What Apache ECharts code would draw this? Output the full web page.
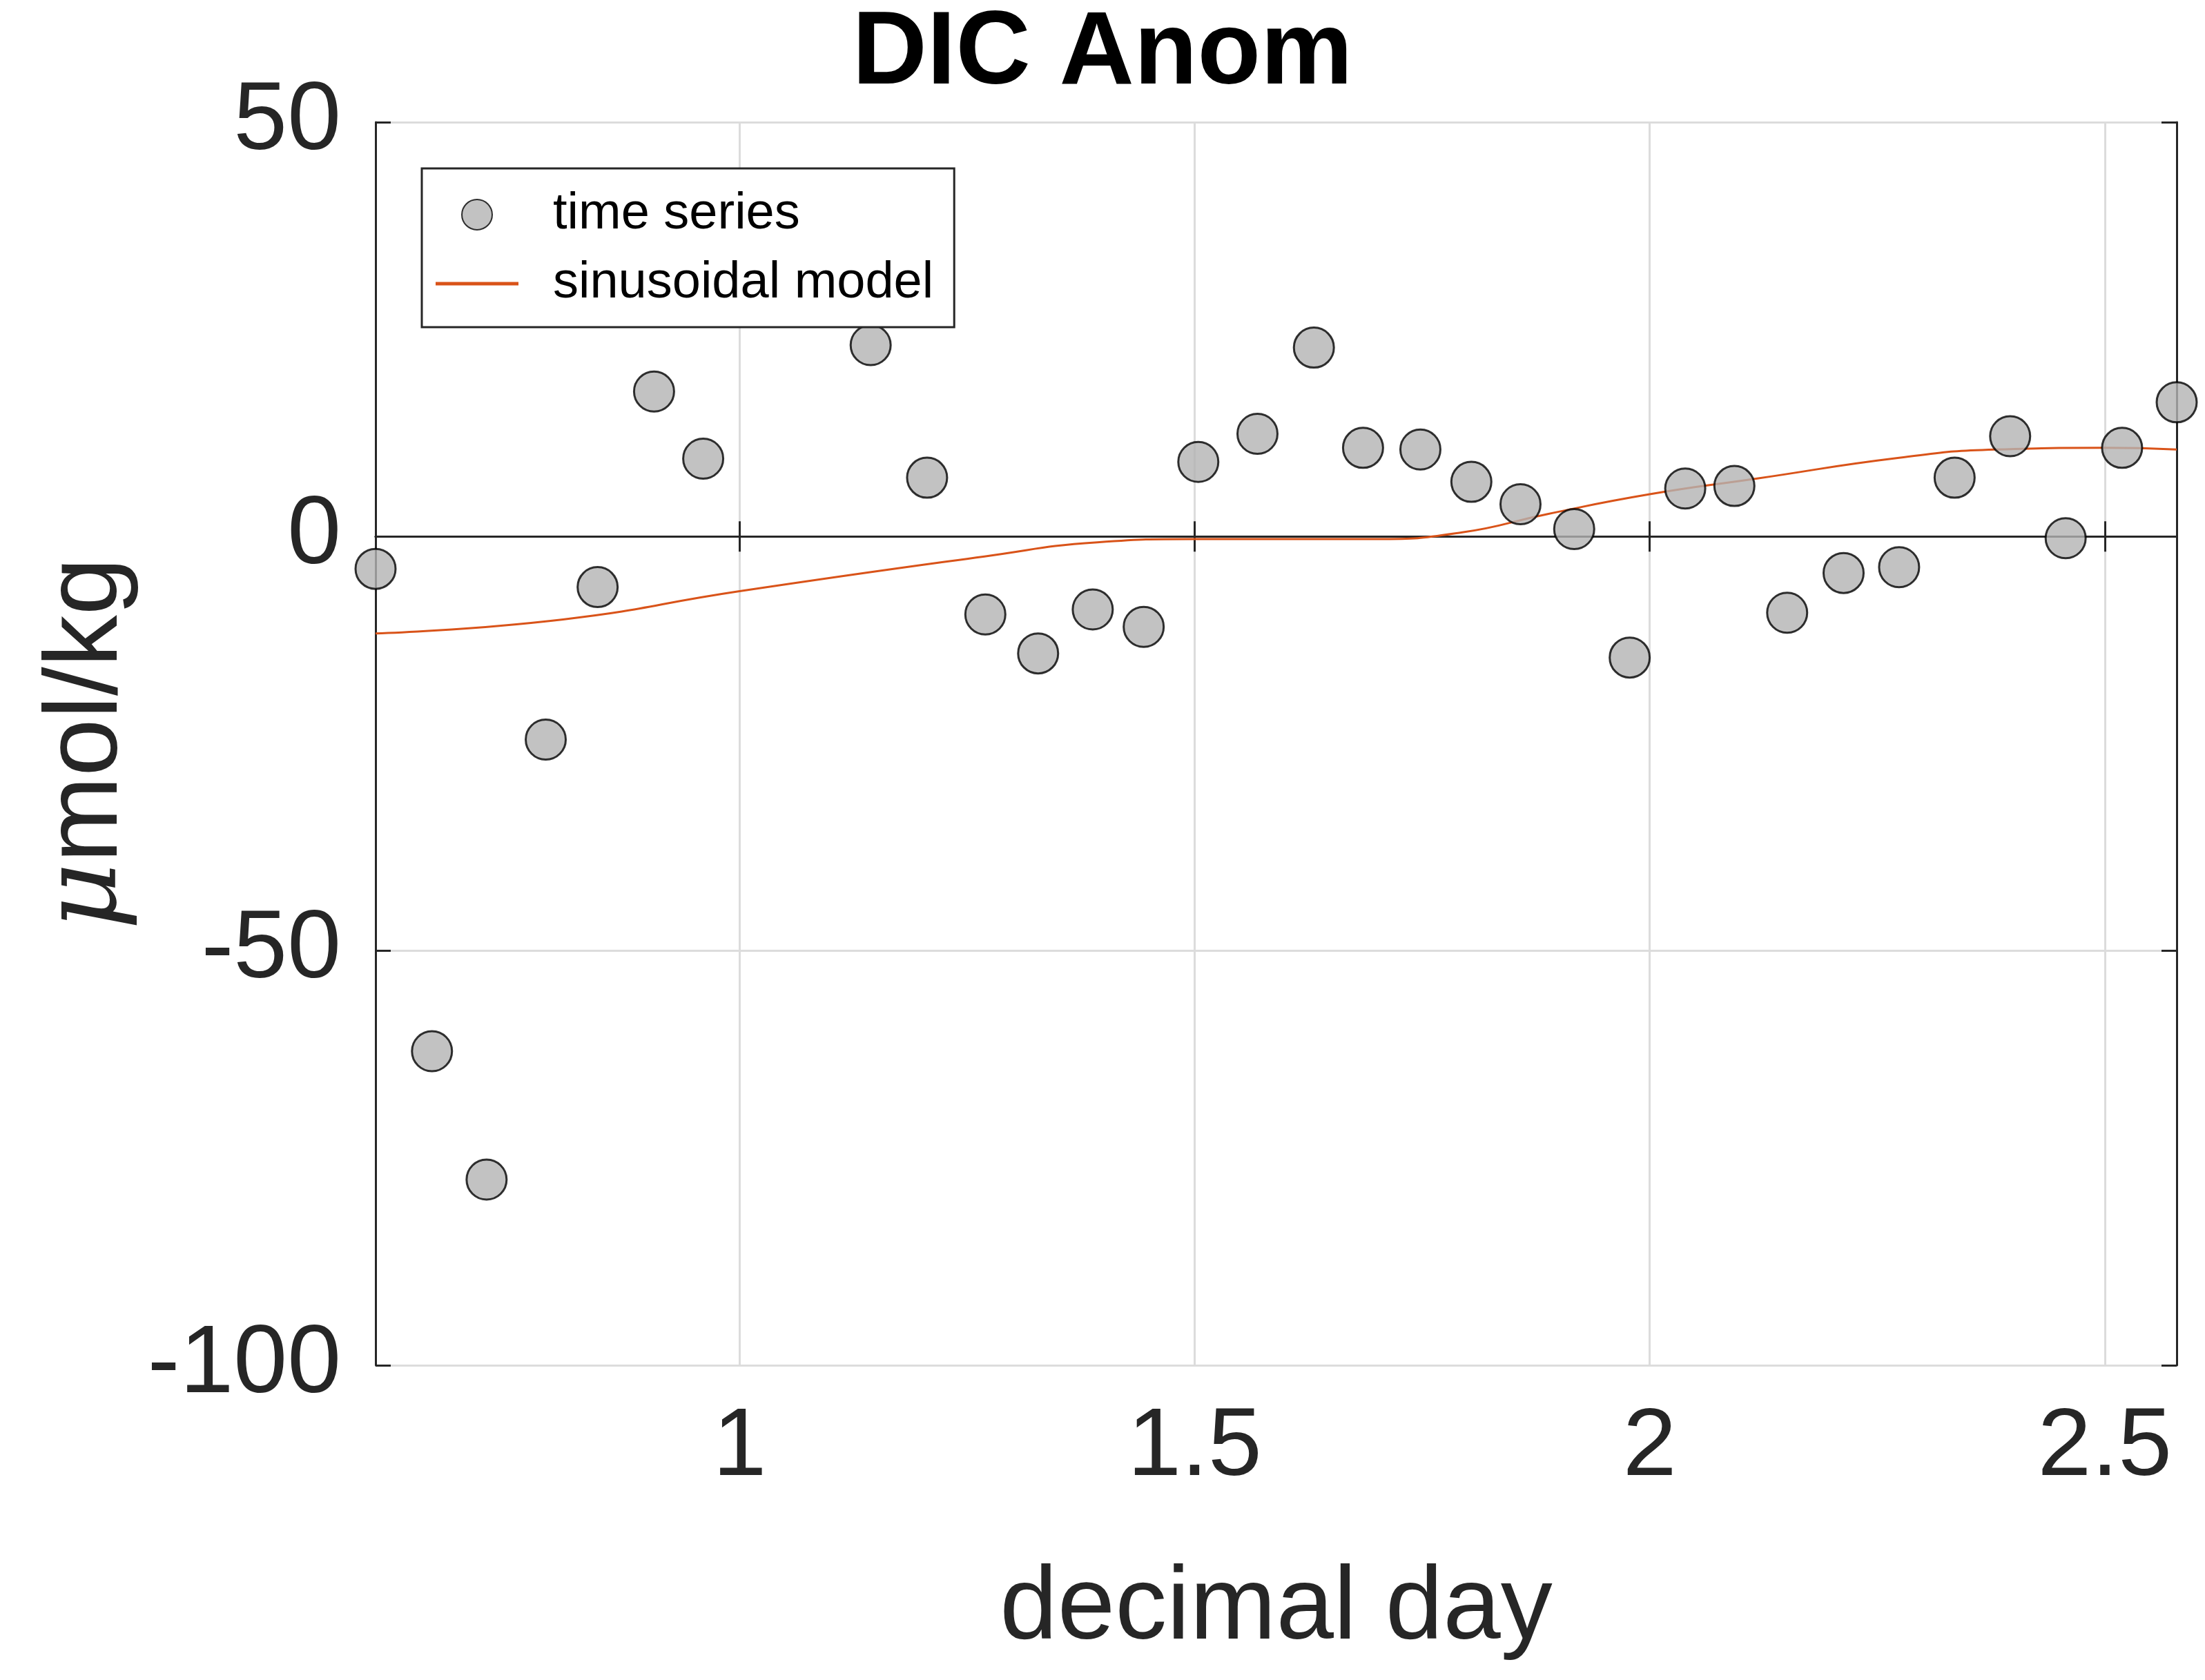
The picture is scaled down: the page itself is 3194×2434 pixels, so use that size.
<!DOCTYPE html>
<html><head><meta charset="utf-8">
<script src="https://cdn.jsdelivr.net/npm/echarts@6/dist/echarts.min.js"></script>
<style>html,body{margin:0;padding:0;background:#fff}#c{width:3194px;height:2434px}</style>
</head><body><div id="c"></div>
<script>
const dayX = [0.600,0.662,0.722,0.787,0.844,0.906,0.960,1.144,1.206,1.270,1.328,1.388,1.444,1.504,1.569,1.631,1.685,1.748,1.804,1.858,1.917,1.978,2.039,2.093,2.151,2.213,2.274,2.335,2.396,2.457,2.519,2.579];
const dicAnom = [-3.9,-62.1,-77.6,-24.5,-6.1,17.5,9.4,23.1,7.1,-9.4,-14.1,-8.8,-10.9,9.0,12.4,22.8,10.7,10.5,6.6,3.9,0.9,-14.6,5.8,6.1,-9.2,-4.4,-3.7,7.1,12.1,-0.2,10.7,16.2];
const modelX = [0.600,0.806,1.000,1.269,1.393,1.500,1.700,1.794,1.887,2.000,2.118,2.274,2.380,2.500,2.579];
const modelY = [-11.7,-10.0,-6.6,-2.4,-0.7,-0.3,-0.3,0.5,2.7,5.1,7.0,9.5,10.5,10.7,10.5];
const xTicks = [1,1.5,2,2.5];

const font = 'Arial, "Liberation Sans", sans-serif';
const frame = {show:true,lineStyle:{color:'#262626',width:3}};
const tick = {show:true,inside:true,length:22,lineStyle:{color:'#262626',width:3}};
const chart = echarts.init(document.getElementById('c'));
chart.setOption({
  animation:false,
  title:{text:'DIC Anom',left:'center',top:0,textStyle:{fontFamily:font,fontWeight:'bold',fontSize:150,color:'#000'}},
  grid:{left:544,right:41,top:177,bottom:456},
  legend:{left:611,top:244,width:940,orient:'vertical',itemWidth:120,itemHeight:44,itemGap:26,padding:[30,30,26,20],
    borderColor:'#262626',borderWidth:3,backgroundColor:'#fff',
    textStyle:{fontFamily:font,fontSize:74,color:'#000',padding:[0,0,0,45]},
    data:[{name:'time series',icon:'circle'},{name:'sinusoidal model',icon:'path://M0,0H1V0.04H0Z'}]},
  xAxis:[{type:'value',min:0.6,max:2.579,
    name:'decimal day',nameLocation:'middle',nameGap:280,nameTextStyle:{fontFamily:font,fontSize:150,color:'#262626'},
    axisLine:frame,
    axisTick:Object.assign({customValues:xTicks},tick),
    axisLabel:{customValues:xTicks,fontFamily:font,fontSize:140,color:'#262626',margin:50},
    splitLine:{show:true,lineStyle:{color:'#dcdcdc',width:3}}},
    {type:'value',position:'top',min:0.6,max:2.579,axisLine:frame,
     axisTick:Object.assign({customValues:xTicks},tick),axisLabel:{show:false},splitLine:{show:false}}],
  yAxis:[{type:'value',min:-100,max:50,interval:50,
    name:'{mu|μ}mol/kg',nameLocation:'middle',nameGap:330,
    nameTextStyle:{fontFamily:font,fontSize:150,color:'#262626',rich:{mu:{fontFamily:'DejaVu Serif',fontStyle:'italic',fontSize:150,color:'#262626'}}},
    axisLine:frame,axisTick:tick,
    axisLabel:{fontFamily:font,fontSize:140,color:'#262626',margin:50},
    splitLine:{show:true,lineStyle:{color:'#dcdcdc',width:3}}},
    {type:'value',position:'right',min:-100,max:50,interval:50,axisLine:frame,axisTick:tick,
     axisLabel:{show:false},splitLine:{show:false}}],
  series:[
    {name:'sinusoidal model',type:'line',smooth:0.5,symbol:'none',z:2,
      lineStyle:{color:'#d95319',width:3},itemStyle:{color:'#d95319'},
      data:modelX.map((x,i)=>[x,modelY[i]])},
    {name:'time series',type:'scatter',symbolSize:58,z:3,
      itemStyle:{color:'#b3b3b3',borderColor:'#000',borderWidth:3},
      data:dayX.map((x,i)=>[x,dicAnom[i]])}
  ]
});
</script></body></html>
